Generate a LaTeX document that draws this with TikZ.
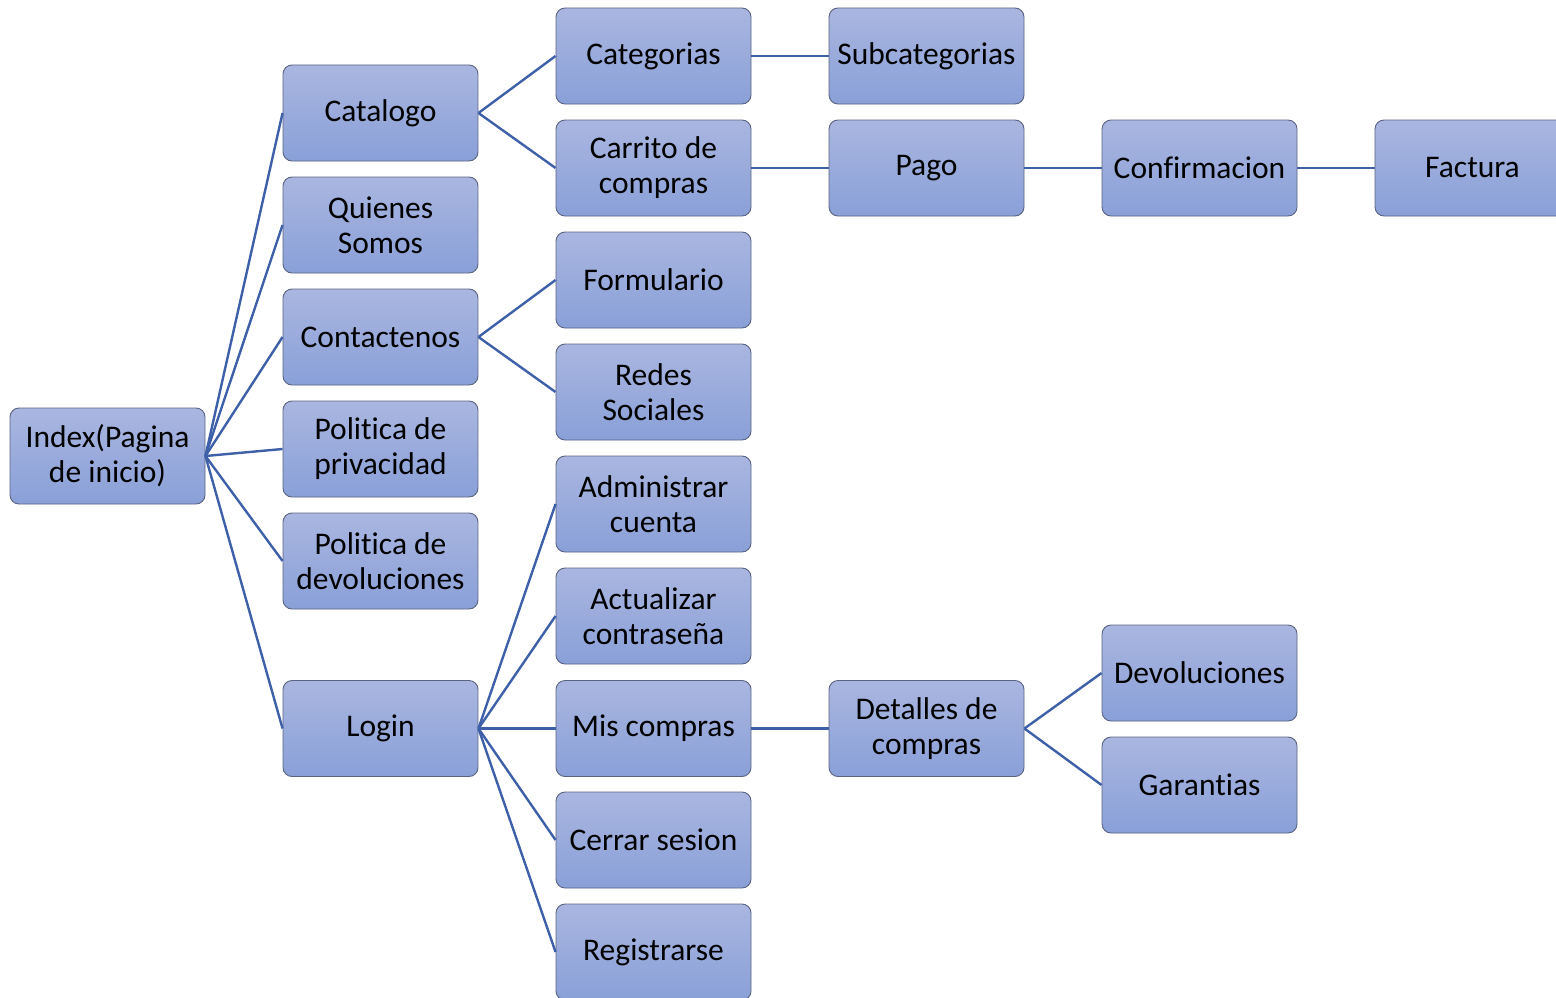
\documentclass[tikz,border=0pt]{standalone}
\usepackage{fontspec}
\setmainfont[Ligatures={NoCommon}]{Carlito}
\definecolor{boxtop}{RGB}{170,182,224}
\definecolor{boxbot}{RGB}{137,160,216}
\definecolor{boxline}{RGB}{90,100,130}
\definecolor{conn}{RGB}{62,96,168}
\begin{document}
\begin{tikzpicture}[x=1pt,y=-1pt,
  box/.style={draw=boxline, line width=0.9pt, rounded corners=9pt,
    top color=boxtop, bottom color=boxbot,
    minimum width=195pt, minimum height=96pt, inner sep=0pt,
    align=center, font=\fontsize{31.5}{35}\selectfont},
  link/.style={draw=conn, line width=2.4pt}]
\useasboundingbox (0,0) rectangle (1556,998);
\node[box] (index) at (107.5,456) {Index(Pagina\\de inicio)};
\node[box] (cat) at (380.5,113) {Catalogo};
\node[box] (qui) at (380.5,225) {Quienes\\Somos};
\node[box] (con) at (380.5,337) {Contactenos};
\node[box] (ppr) at (380.5,449) {Politica de\\privacidad};
\node[box] (pde) at (380.5,561) {Politica de\\devoluciones};
\node[box] (log) at (380.5,728.5) {Login};
\node[box] (ctg) at (653.5,56) {Categorias};
\node[box] (car) at (653.5,168) {Carrito de\\compras};
\node[box] (frm) at (653.5,280) {Formulario};
\node[box] (red) at (653.5,392) {Redes\\Sociales};
\node[box] (adm) at (653.5,504) {Administrar\\cuenta};
\node[box] (act) at (653.5,616) {Actualizar\\contraseña};
\node[box] (mis) at (653.5,728.5) {Mis compras};
\node[box] (cer) at (653.5,840) {Cerrar sesion};
\node[box] (reg) at (653.5,952) {Registrarse};
\node[box] (sub) at (926.5,56) {Subcategorias};
\node[box] (pag) at (926.5,168) {Pago};
\node[box] (det) at (926.5,728.5) {Detalles de\\compras};
\node[box] (cnf) at (1199.5,168) {Confirmacion};
\node[box] (dev) at (1199.5,673) {Devoluciones};
\node[box] (gar) at (1199.5,785) {Garantias};
\node[box] (fac) at (1472.5,168) {Factura};
\foreach \c in {cat,qui,con,ppr,pde,log} \draw[link] (index.east) -- (\c.west);
\foreach \c in {ctg,car} \draw[link] (cat.east) -- (\c.west);
\foreach \c in {frm,red} \draw[link] (con.east) -- (\c.west);
\foreach \c in {adm,act,mis,cer,reg} \draw[link] (log.east) -- (\c.west);
\draw[link] (ctg.east) -- (sub.west);
\draw[link] (car.east) -- (pag.west);
\draw[link] (pag.east) -- (cnf.west);
\draw[link] (cnf.east) -- (fac.west);
\draw[link] (mis.east) -- (det.west);
\foreach \c in {dev,gar} \draw[link] (det.east) -- (\c.west);
\end{tikzpicture}
\end{document}
